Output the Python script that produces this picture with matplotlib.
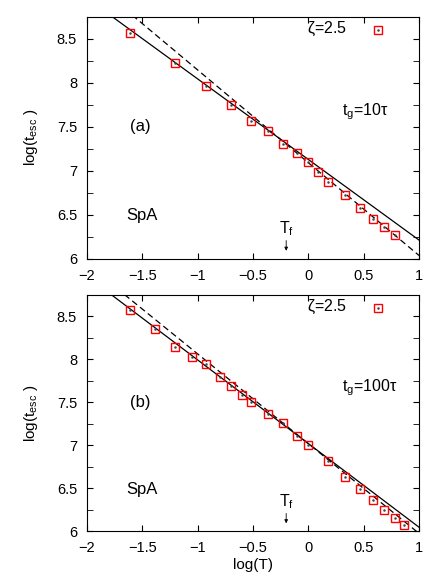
import numpy as np
import matplotlib.pyplot as plt

plt.rcParams['font.family'] = ['Liberation Sans', 'DejaVu Sans']
plt.rcParams['mathtext.fontset'] = 'custom'
plt.rcParams['mathtext.rm'] = 'Liberation Sans'
plt.rcParams['mathtext.it'] = 'Liberation Sans'

# panel (a): t_g = 10 tau
xa = [-1.611, -1.205, -0.925, -0.696, -0.515, -0.361, -0.226, -0.105, -0.006,
      0.087, 0.178, 0.334, 0.467, 0.584, 0.684, 0.783]
ya = [8.569, 8.229, 7.966, 7.745, 7.570, 7.448, 7.311, 7.200, 7.101,
      6.987, 6.877, 6.728, 6.579, 6.450, 6.362, 6.267]
# fit lines (x ends, y ends)
sol_a_x, sol_a_y = [-1.79, 1.0], [8.77, 6.213]
das_a_x, das_a_y = [-1.59, 1.0], [8.77, 6.038]

# panel (b): t_g = 100 tau
xb = [-1.611, -1.386, -1.205, -1.051, -0.925, -0.801, -0.696, -0.599, -0.515,
      -0.361, -0.226, -0.105, -0.006, 0.178, 0.334, 0.467, 0.584, 0.684,
      0.783, 0.867]
yb = [8.574, 8.349, 8.140, 8.027, 7.938, 7.791, 7.686, 7.578, 7.504,
      7.364, 7.256, 7.112, 7.004, 6.814, 6.636, 6.488, 6.364, 6.248,
      6.159, 6.078]
sol_b_x, sol_b_y = [-1.78, 1.0], [8.75, 6.047]
das_b_x, das_b_y = [-1.66, 0.976], [8.75, 6.0]

Tf = -0.2

fig = plt.figure(figsize=(4.43, 5.83), dpi=100)
ax1 = fig.add_axes([0.196, 0.556, 0.750, 0.415])
ax2 = fig.add_axes([0.196, 0.0887, 0.750, 0.406])

panels = [
    (ax1, xa, ya, sol_a_x, sol_a_y, das_a_x, das_a_y, '(a)', r'$\mathregular{t_g}$=10$\mathregular{\tau}$'),
    (ax2, xb, yb, sol_b_x, sol_b_y, das_b_x, das_b_y, '(b)', r'$\mathregular{t_g}$=100$\mathregular{\tau}$'),
]

for ax, x, y, sx, sy, dx, dy, lab, tg in panels:
    ax.plot(sx, sy, color='black', lw=0.9)
    ax.plot(dx, dy, color='black', lw=0.9, ls=(0, (5, 3)))
    ax.plot(x, y, ls='none', marker='s', ms=5.8, mfc='none', mec='red', mew=1.0)
    ax.plot(x, y, ls='none', marker='o', ms=0.8, color='#444444')
    ax.plot([0.625], [8.6], ls='none', marker='s', ms=5.8,
            mfc='none', mec='red', mew=1.0)
    ax.plot([0.625], [8.6], ls='none', marker='o', ms=0.8, color='#444444')
    ax.text(0.345, 8.61, r'$\mathregular{\zeta}$=2.5', ha='right', va='center', fontsize=11.5)
    ax.text(-1.52, 7.50, lab, ha='center', va='center', fontsize=12)
    ax.text(-1.50, 6.49, 'SpA', ha='center', va='center', fontsize=12)
    ax.text(0.30, 7.67, tg, ha='left', va='center', fontsize=11.5)
    ax.annotate('', xy=(Tf, 6.06), xytext=(Tf, 6.24),
                arrowprops=dict(arrowstyle='-|>', color='black', lw=0.6,
                                mutation_scale=5))
    ax.text(Tf, 6.34, r'T$_\mathregular{f}$', ha='center', va='center', fontsize=11.5)

    ax.set_xlim(-2, 1)
    ax.set_ylim(6, 8.75)
    ax.set_xticks(np.arange(-2, 1.01, 0.5))
    ax.set_xticklabels(['\u22122', '\u22121.5', '\u22121', '\u22120.5', '0', '0.5', '1'])
    ax.set_yticks(np.arange(6, 8.51, 0.5))
    ax.set_yticklabels(['6', '6.5', '7', '7.5', '8', '8.5'])
    ax.set_yticks(np.arange(6.25, 8.76, 0.5), minor=True)
    ax.tick_params(which='both', direction='in', top=True, right=True, labelsize=10.5)
    ax.tick_params(axis='x', which='major', length=4, pad=7)
    ax.tick_params(axis='y', which='both', length=4, pad=7)
    ax.set_ylabel(r'log(t$_\mathregular{esc}$ )', fontsize=11, labelpad=12)

ax2.set_xlabel('log(T)', fontsize=11, labelpad=2)

fig.savefig('out.png', dpi=100)
